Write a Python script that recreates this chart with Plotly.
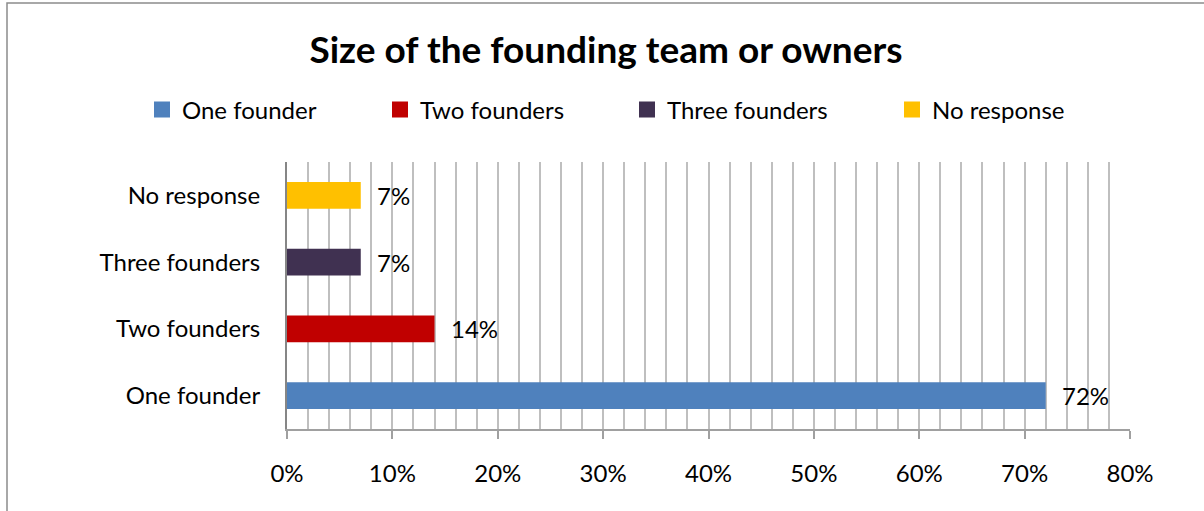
import plotly.graph_objects as go

categories = ["One founder", "Two founders", "Three founders", "No response"]
values = [0.72, 0.14, 0.07, 0.07]
labels = ["72%", "14%", "7%", "7%"]
colors = ["#4F81BD", "#C00000", "#403151", "#FFC000"]
x_ticks = [0, 0.1, 0.2, 0.3, 0.4, 0.5, 0.6, 0.7, 0.8]

FONT = "Lato"
FS = 24
W, H = 1204, 511
L, R, T, B = 287, 74, 162, 82
pw, ph = W - L - R, H - T - B

# legend text start positions (px) in the reference
legend_text_x = [180, 418, 665, 930]
legend_names = ["legend", "legend2", "legend3", "legend4"]

fig = go.Figure()
for c, v, col, lg in zip(categories, values, colors, legend_names):
    fig.add_trace(go.Bar(
        y=[c], x=[v], name=c, orientation="h",
        marker=dict(color=col, line=dict(width=0)),
        width=0.4, showlegend=False, legendgroup=c,
    ))
    # legend entry with a larger square swatch
    fig.add_trace(go.Scatter(
        x=[None], y=[None], mode="markers", name=c, legend=lg, legendgroup=c,
        marker=dict(symbol="square", size=22, color=col, line=dict(width=0)),
        hoverinfo="skip",
    ))

for c, v, t in zip(categories, values, labels):
    fig.add_annotation(x=v, y=c, text=t, showarrow=False, xanchor="left",
                       xshift=14, font=dict(family=FONT, size=FS, color="#000000"))

# outer chart frame
fig.add_shape(type="rect", xref="paper", yref="paper",
              x0=(7 - L) / pw, x1=(W + 20 - L) / pw,
              y0=-(H + 20 - (H - B)) / ph, y1=1 + (T - 3) / ph,
              line=dict(color="#8c8c8c", width=1.5), fillcolor="rgba(0,0,0,0)")

legends = {}
for lg, tx in zip(legend_names, legend_text_x):
    legends[lg] = dict(orientation="h", x=(tx - 38 - L) / pw, xanchor="left",
                       y=1 + (T - 110) / ph, yanchor="middle",
                       font=dict(family=FONT, size=FS), itemclick=False,
                       bgcolor="rgba(0,0,0,0)")

fig.update_layout(
    width=W, height=H,
    margin=dict(l=L, r=R, t=T, b=B),
    paper_bgcolor="white", plot_bgcolor="white",
    barmode="overlay",
    font=dict(family=FONT, size=FS, color="#000000"),
    title=dict(text="<b>Size of the founding team or owners</b>",
               x=606 / W, xanchor="center", xref="container",
               y=1 - 50 / H, yanchor="middle", yref="container",
               font=dict(family=FONT, size=37, color="#000000")),
    showlegend=True,
    xaxis=dict(range=[0, 0.8], tickvals=x_ticks, tickformat=".0%",
               showgrid=True, gridcolor="#bfbfbf", gridwidth=1.5,
               minor=dict(dtick=0.02, showgrid=True, gridcolor="#bfbfbf", gridwidth=1.5),
               showline=True, linecolor="#a0a0a0", linewidth=1.5,
               ticks="outside", ticklen=8, tickcolor="#a0a0a0", tickwidth=1.5,
               ticklabelstandoff=14,
               tickfont=dict(family=FONT, size=FS), zeroline=False, fixedrange=True),
    yaxis=dict(categoryorder="array", categoryarray=categories,
               showline=True, linecolor="#868686", linewidth=2,
               ticks="", ticklabelstandoff=20,
               tickfont=dict(family=FONT, size=FS), showgrid=False, fixedrange=True),
    **legends,
)

fig.write_html("out.html", config={"displayModeBar": False},
               post_script="document.body.style.margin='0px';")
